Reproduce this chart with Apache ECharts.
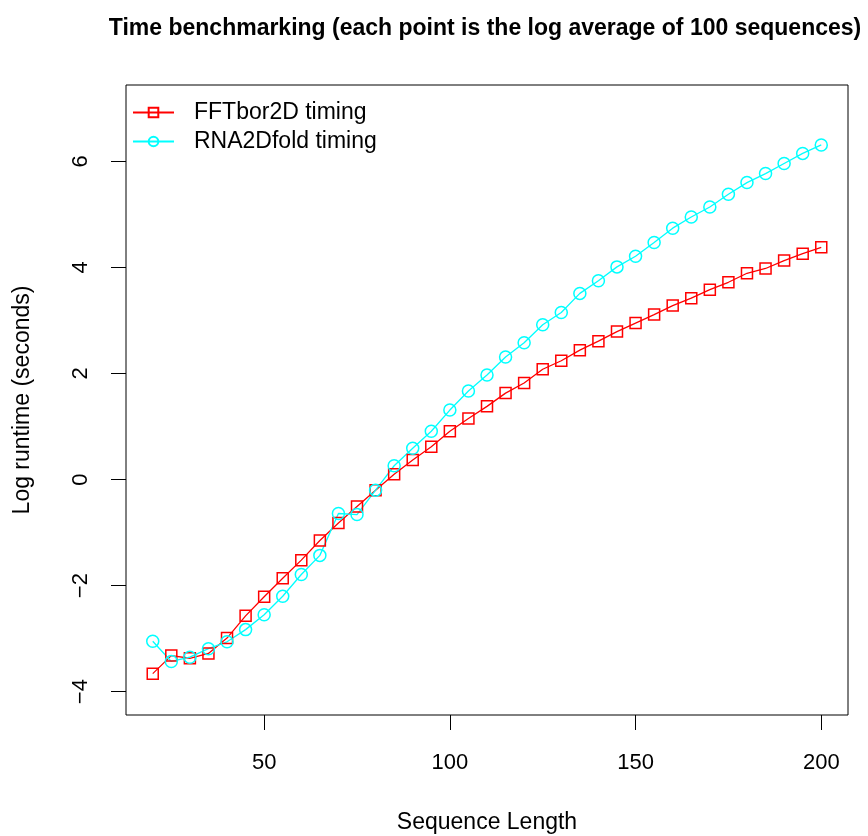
<!DOCTYPE html>
<html>
<head>
<meta charset="utf-8">
<script src="https://cdn.jsdelivr.net/npm/echarts@6/dist/echarts.min.js"></script>
<style>html,body{margin:0;padding:0;background:#fff}#c{width:868px;height:836px}</style>
</head>
<body>
<div id="c"></div>
<script>
const seqLength = [20,25,30,35,40,45,50,55,60,65,70,75,80,85,90,95,100,105,110,115,120,125,130,135,140,145,150,155,160,165,170,175,180,185,190,195,200];
const fftbor2d = [-3.66,-3.32,-3.37,-3.28,-2.99,-2.57,-2.21,-1.86,-1.52,-1.15,-0.82,-0.51,-0.20,0.10,0.37,0.62,0.91,1.15,1.38,1.63,1.82,2.08,2.24,2.44,2.61,2.79,2.95,3.11,3.28,3.42,3.58,3.72,3.89,3.98,4.13,4.26,4.38];
const rna2dfold = [-3.05,-3.43,-3.35,-3.19,-3.06,-2.83,-2.55,-2.20,-1.79,-1.43,-0.64,-0.66,-0.20,0.26,0.59,0.91,1.31,1.67,1.97,2.31,2.58,2.92,3.15,3.51,3.75,4.01,4.21,4.47,4.74,4.95,5.14,5.38,5.60,5.77,5.96,6.15,6.31];
const xTicks = [50,100,150,200];
const yTicks = [-4,-2,0,2,4,6];
const seriesNames = ['FFTbor2D timing','RNA2Dfold timing'];

const FONT = 'Liberation Sans, Arial, Helvetica, sans-serif';
const chart = echarts.init(document.getElementById('c'), null, {renderer:'canvas'});
const pair = (ys) => seqLength.map((x,i)=>[x, ys[i]]);
chart.setOption({
  animation:false,
  backgroundColor:'#fff',
  title:{
    text:'Time benchmarking (each point is the log average of 100 sequences)',
    left:480, top:12, textAlign:'center',
    textStyle:{fontFamily:FONT,fontWeight:'bold',fontSize:23,color:'#000'}
  },
  legend:{
    orient:'vertical', left:127, top:96,
    itemWidth:41, itemHeight:12, itemGap:6,
    textStyle:{fontFamily:FONT,fontSize:23,color:'#000',padding:[0,0,0,15]},
    data:seriesNames
  },
  grid:{left:126, right:20, top:85, bottom:121, show:true, borderColor:'#000', borderWidth:1,
    backgroundColor:'transparent', outerBoundsMode:'none', containLabel:false},
  xAxis:{
    type:'value', min:12.8, max:207.2,
    axisLine:{show:false, onZero:false},
    splitLine:{show:false},
    axisTick:{show:true, length:15, customValues:xTicks, lineStyle:{color:'#000'}},
    axisLabel:{customValues:xTicks, margin:37, fontFamily:FONT, fontSize:22, color:'#000'},
    name:'Sequence Length', nameLocation:'middle', nameGap:96,
    nameTextStyle:{fontFamily:FONT,fontSize:23,color:'#000'}
  },
  yAxis:{
    type:'value', min:-4.44, max:7.44,
    axisLine:{show:false, onZero:false},
    splitLine:{show:false},
    axisTick:{show:true, length:15, customValues:yTicks, lineStyle:{color:'#000'}},
    axisLabel:{customValues:yTicks, rotate:90, margin:34, fontFamily:FONT, fontSize:22, color:'#000',
      formatter:(v)=>String(v).replace('-','\u2212')},
    name:'Log runtime (seconds)', nameLocation:'middle', nameGap:92,
    nameTextStyle:{fontFamily:FONT,fontSize:23,color:'#000'}
  },
  series:[
    {name:seriesNames[0], type:'line', data:pair(fftbor2d), symbol:'rect', symbolSize:11,
     lineStyle:{color:'#ff0000',width:1.3}, itemStyle:{color:'rgba(0,0,0,0)',borderColor:'#ff0000',borderWidth:1.5}},
    {name:seriesNames[1], type:'line', data:pair(rna2dfold), symbol:'circle', symbolSize:12,
     lineStyle:{color:'#00ffff',width:1.3}, itemStyle:{color:'rgba(0,0,0,0)',borderColor:'#00ffff',borderWidth:1.5}}
  ]
});
</script>
</body>
</html>
